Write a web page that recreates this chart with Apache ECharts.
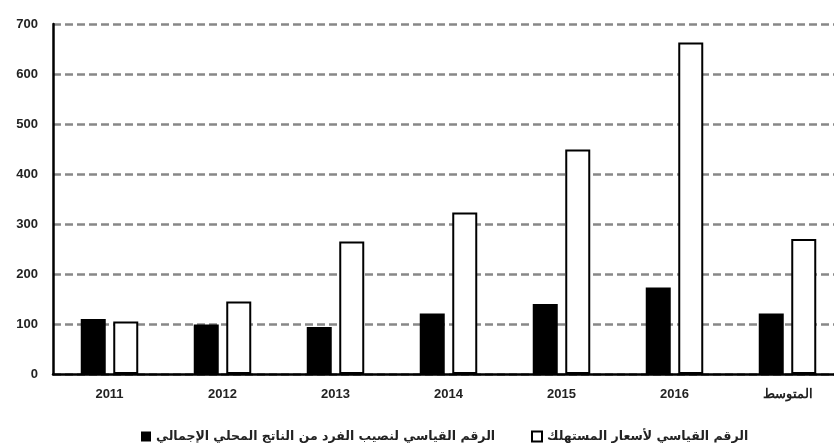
<!DOCTYPE html>
<html>
<head>
<meta charset="utf-8">
<script src="https://cdn.jsdelivr.net/npm/echarts@6/dist/echarts.min.js"></script>
<style>
  html, body { margin: 0; padding: 0; background: #fff; }
  #chart { width: 834px; height: 444px; }
</style>
</head>
<body>
<div id="chart"></div>
<script>
// Categories (years plus the period average)
const categories = ['2011', '2012', '2013', '2014', '2015', '2016', 'المتوسط'];

// Index of GDP per capita (filled bars)
const gdpPerCapitaIndex = [110, 99, 94, 121, 140, 173, 121];

// Consumer price index (hollow bars)
const consumerPriceIndex = [105, 145, 265, 323, 449, 663, 270];

const seriesNames = [
  'الرقم القياسي لنصيب الفرد من الناتج المحلي الإجمالي',
  'الرقم القياسي لأسعار المستهلك'
];

const labelFont = 'Liberation Sans, Arial, sans-serif';
const arabicFont = 'DejaVu Sans, sans-serif';

const legendText = { fontFamily: arabicFont, fontWeight: 'bold', fontSize: 12.5, color: '#222' };

const chart = echarts.init(document.getElementById('chart'), null, { renderer: 'canvas' });

chart.setOption({
  animation: false,
  backgroundColor: '#ffffff',
  grid: {
    left: 53,
    top: 24,
    width: 791,
    height: 350,
    containLabel: false,
    outerBoundsMode: 'none'
  },
  legend: [
    {
      data: [seriesNames[0]],
      left: 136,
      top: 425,
      icon: 'rect',
      itemWidth: 10,
      itemHeight: 10,
      textStyle: legendText
    },
    {
      data: [seriesNames[1]],
      left: 526,
      top: 425,
      icon: 'rect',
      itemWidth: 10,
      itemHeight: 10,
      textStyle: legendText
    }
  ],
  xAxis: {
    type: 'category',
    data: categories,
    axisLine: { show: true, lineStyle: { color: '#000', width: 2.5 } },
    axisTick: { show: false },
    axisLabel: {
      margin: 14,
      fontFamily: labelFont,
      fontWeight: 'bold',
      fontSize: 13,
      color: '#222'
    }
  },
  yAxis: {
    type: 'value',
    min: 0,
    max: 700,
    interval: 100,
    axisLine: { show: true, lineStyle: { color: '#000', width: 2.5 } },
    axisTick: { show: false },
    axisLabel: {
      margin: 15,
      fontFamily: labelFont,
      fontWeight: 'bold',
      fontSize: 13,
      color: '#222'
    },
    splitLine: {
      show: true,
      lineStyle: { color: '#888', width: 2.5, type: [8, 4] }
    }
  },
  series: [
    {
      name: seriesNames[0],
      type: 'bar',
      data: gdpPerCapitaIndex,
      barWidth: 25,
      barGap: '30%',
      itemStyle: { color: '#000', borderColor: '#000', borderWidth: 0 }
    },
    {
      name: seriesNames[1],
      type: 'bar',
      data: consumerPriceIndex,
      barWidth: 25,
      barGap: '30%',
      itemStyle: { color: '#fff', borderColor: '#000', borderWidth: 2 }
    }
  ]
});
</script>
</body>
</html>
